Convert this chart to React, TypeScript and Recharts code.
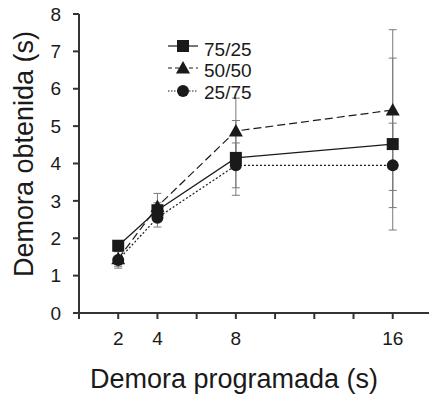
import { LineChart, Line, XAxis, YAxis, ErrorBar, Legend, Label } from 'recharts';

// programmed delay (s)
const delays = [2, 4, 8, 16];

// obtained delay (s), one array per ratio
const mean7525 = [1.8, 2.75, 4.15, 4.52];
const mean5050 = [1.45, 2.85, 4.87, 5.43];
const mean2575 = [1.42, 2.55, 3.95, 3.95];

// error bar half-lengths
const err7525 = [0.1, 0.2, 1.0, 2.3];
const err5050 = [0.2, 0.35, 0.88, 2.15];
const err2575 = [0.22, 0.25, 0.6, 1.13];

const seriesNames = ['75/25', '50/50', '25/75'];
const xTicks = [0, 2, 4, 6, 8, 10, 12, 14, 16];
const xLabels = [2, 4, 8, 16];
const yTicks = [0, 1, 2, 3, 4, 5, 6, 7, 8];

const data = delays.map((d, i) => ({
  delay: d,
  m7525: mean7525[i],
  m5050: mean5050[i],
  m2575: mean2575[i],
  e7525: err7525[i],
  e5050: err5050[i],
  e2575: err2575[i],
}));

const INK = '#1a1a1a';
const FONT = '"Liberation Sans", Arial, sans-serif';

const drawMarker = (shape: string, cx: number, cy: number, key?: string) => {
  if (shape === 'square') {
    return <rect key={key} x={cx - 6} y={cy - 6} width={12} height={12} fill={INK} />;
  }
  if (shape === 'triangle') {
    return <polygon key={key} points={`${cx},${cy - 7} ${cx + 7},${cy + 5.5} ${cx - 7},${cy + 5.5}`} fill={INK} />;
  }
  return <circle key={key} cx={cx} cy={cy} r={6} fill={INK} />;
};

const dotFor = (shape: string) => (props: any) =>
  drawMarker(shape, props.cx, props.cy, `${shape}-${props.index}`);

const styles = [
  { shape: 'square', legendDash: undefined },
  { shape: 'triangle', legendDash: '4 3' },
  { shape: 'circle', legendDash: '1.5 1.5' },
];

const renderLegend = () => {
  const rows = [46, 68, 91];
  const baselines = [56, 77, 99];
  return (
    <svg width={429} height={110} style={{ display: 'block' }}>
      {seriesNames.map((name, i) => (
        <g key={name}>
          <line x1={168} x2={198} y1={rows[i]} y2={rows[i]} stroke={INK} strokeWidth={1.2} strokeDasharray={styles[i].legendDash} />
          {drawMarker(styles[i].shape, 183, rows[i])}
          <text x={204} y={baselines[i]} fontSize={19} fontFamily={FONT} fill={INK}>{name}</text>
        </g>
      ))}
    </svg>
  );
};

export default function App() {
  return (
    <div style={{ position: 'absolute', left: 0, top: 0, width: 429, height: 396, background: '#fff' }}>
      <LineChart width={429} height={396} data={data} margin={{ top: 14, right: 0, left: 0, bottom: 23 }}>
        <XAxis
          dataKey="delay"
          type="number"
          domain={[0, 17.85]}
          ticks={xTicks}
          allowDataOverflow
          height={60}
          stroke="#333"
          strokeWidth={2}
          tickSize={6}
          tickMargin={13}
          tick={{ fontSize: 19, fontFamily: FONT, fill: INK }}
          tickFormatter={(v: number) => (xLabels.includes(v) ? String(v) : '')}
        >
          <Label
            content={() => (
              <text x={234} y={388} textAnchor="middle" fontSize={27} fontFamily={FONT} fill={INK}>
                Demora programada (s)
              </text>
            )}
          />
        </XAxis>
        <YAxis
          type="number"
          domain={[0, 8]}
          ticks={yTicks}
          width={79}
          stroke="#333"
          strokeWidth={2}
          tickSize={6}
          tickMargin={12}
          tick={{ fontSize: 19, fontFamily: FONT, fill: INK }}
        >
          <Label
            content={() => (
              <text x={33} y={154} transform="rotate(-90 33 154)" textAnchor="middle" fontSize={27} fontFamily={FONT} fill={INK}>
                Demora obtenida (s)
              </text>
            )}
          />
        </YAxis>
        <Legend layout="vertical" align="center" verticalAlign="middle" wrapperStyle={{ top: 0, left: 0, width: 429, height: 110 }} content={renderLegend} />

        {/* error bars first so they sit behind the lines and markers */}
        <Line dataKey="m7525" stroke="none" dot={false} activeDot={false} legendType="none" isAnimationActive={false}>
          <ErrorBar dataKey="e7525" width={4} stroke="#7a7a7a" strokeWidth={1} direction="y" isAnimationActive={false} />
        </Line>
        <Line dataKey="m5050" stroke="none" dot={false} activeDot={false} legendType="none" isAnimationActive={false}>
          <ErrorBar dataKey="e5050" width={4} stroke="#7a7a7a" strokeWidth={1} direction="y" isAnimationActive={false} />
        </Line>
        <Line dataKey="m2575" stroke="none" dot={false} activeDot={false} legendType="none" isAnimationActive={false}>
          <ErrorBar dataKey="e2575" width={4} stroke="#7a7a7a" strokeWidth={1} direction="y" isAnimationActive={false} />
        </Line>

        <Line type="linear" dataKey="m7525" name={seriesNames[0]} stroke={INK} strokeWidth={1.2} dot={dotFor('square')} activeDot={false} isAnimationActive={false} />
        <Line type="linear" dataKey="m5050" name={seriesNames[1]} stroke={INK} strokeWidth={1.2} strokeDasharray="8 4" dot={dotFor('triangle')} activeDot={false} isAnimationActive={false} />
        <Line type="linear" dataKey="m2575" name={seriesNames[2]} stroke={INK} strokeWidth={1.2} strokeDasharray="2 2" dot={dotFor('circle')} activeDot={false} isAnimationActive={false} />
      </LineChart>
    </div>
  );
}
